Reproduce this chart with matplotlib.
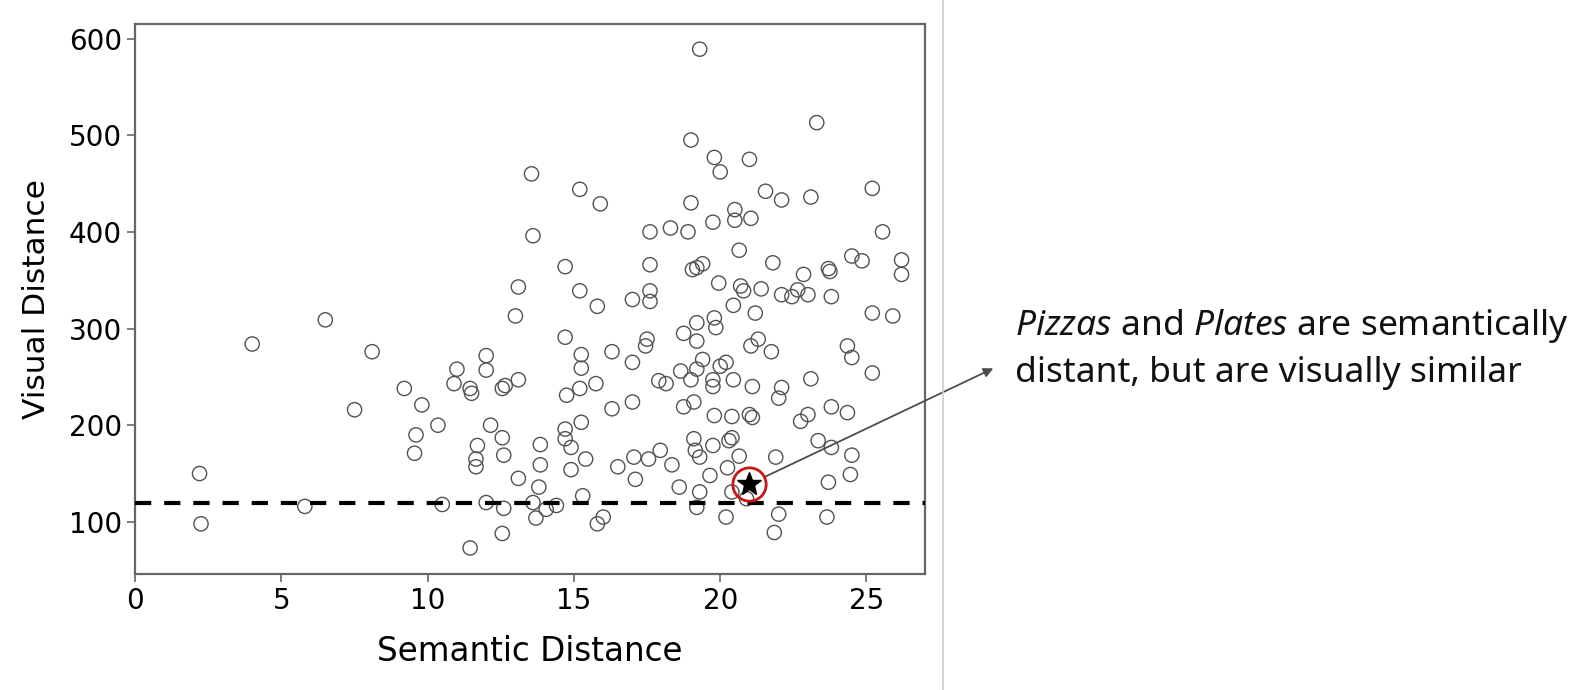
import numpy as np
import matplotlib.pyplot as plt
from matplotlib.lines import Line2D

# Semantic vs visual distance for each class pair
semantic_distance = [
    2.2, 2.25, 4.0, 6.5, 5.8, 8.1, 7.5, 9.2, 9.8, 9.6, 9.55, 10.35, 10.5, 11.0, 10.9,
    11.45, 11.5, 12.0, 12.0, 12.55, 12.65, 13.1, 13.0, 13.1, 12.15, 11.7, 11.65, 11.65,
    12.55, 12.6, 13.1, 12.0, 12.6, 12.55, 11.45,
    13.55, 15.2, 15.9, 19.3, 19.0, 19.0, 19.8, 20.0, 21.0, 23.3, 21.55, 22.1, 23.1, 25.2,
    13.6, 17.6, 18.3, 18.9, 14.7, 17.6, 19.05, 19.2, 19.4, 15.2, 15.8, 17.0, 17.6, 17.6,
    14.7, 15.25, 15.25, 16.3, 17.0, 17.5, 17.45, 18.75, 19.2, 19.2, 15.75, 15.2, 17.9,
    18.15, 18.65, 19.0, 19.2, 20.5, 20.5, 21.05, 19.75, 25.55, 20.65, 21.8, 24.5, 24.85,
    26.2, 26.2, 23.7, 23.75, 22.85, 19.95, 20.7, 20.8, 21.4, 22.1, 22.45, 22.65, 23.0,
    23.8, 20.45, 21.2, 25.2, 25.9, 19.8, 19.85, 21.05, 21.3, 21.75, 24.35, 24.5, 25.2,
    23.1, 19.4, 20.0, 20.2, 19.75, 20.45, 21.1, 22.1, 19.75,
    14.75, 16.3, 17.0, 18.75, 19.1, 13.85, 13.85, 13.8, 14.7, 14.7, 14.9, 15.25, 15.4,
    14.9, 15.3, 16.5, 17.05, 17.55, 17.95, 18.35, 17.1, 18.6, 19.1, 19.15, 19.3, 13.6,
    14.05, 13.7, 14.4, 15.8, 16.0, 19.2, 19.3,
    19.8, 20.4, 21.0, 21.1, 22.0, 22.75, 23.0, 23.8, 24.35, 19.75, 20.3, 20.4, 20.65,
    20.25, 19.65, 21.9, 23.35, 23.8, 24.5, 24.45, 23.7, 20.4, 20.9, 20.2, 22.0, 21.85,
    23.65,
]
visual_distance = [
    150, 98, 284, 309, 116, 276, 216, 238, 221, 190, 171, 200, 118, 258, 243,
    238, 233, 272, 257, 238, 241, 247, 313, 343, 200, 179, 165, 157,
    187, 169, 145, 120, 114, 88, 73,
    460, 444, 429, 589, 495, 430, 477, 462, 475, 513, 442, 433, 436, 445,
    396, 400, 404, 400, 364, 366, 361, 363, 367, 339, 323, 330, 339, 328,
    291, 273, 259, 276, 265, 289, 282, 295, 306, 287, 243, 238, 246,
    243, 256, 247, 258, 423, 412, 414, 410, 400, 381, 368, 375, 370,
    371, 356, 362, 359, 356, 347, 344, 339, 341, 335, 333, 340, 335,
    333, 324, 316, 316, 313, 311, 301, 282, 289, 276, 282, 270, 254,
    248, 268, 261, 265, 247, 247, 240, 239, 240,
    231, 217, 224, 219, 224, 180, 159, 136, 196, 186, 177, 203, 165,
    154, 127, 157, 167, 165, 174, 159, 144, 136, 186, 174, 167, 120,
    113, 104, 117, 98, 105, 115, 131,
    210, 209, 211, 208, 228, 204, 211, 219, 213, 179, 184, 187, 168,
    156, 148, 167, 184, 177, 169, 149, 141, 131, 124, 105, 108, 89,
    105,
]

# Highlighted pair (Pizzas / Plates) and the threshold line
highlight_semantic = 21.0
highlight_visual = 139
threshold = 120

plt.rcParams['mathtext.fontset'] = 'custom'
plt.rcParams['mathtext.rm'] = 'Noto Sans'
plt.rcParams['mathtext.it'] = 'Noto Sans:italic'

fig = plt.figure(figsize=(15.83, 6.9), dpi=100)
ax = fig.add_axes([0.0854, 0.168, 0.4989, 0.7972])

ax.scatter(semantic_distance, visual_distance, s=105, facecolors='none',
           edgecolors='0.32', linewidths=1.0, zorder=2)
ax.axhline(threshold, color='black', linewidth=3, dashes=(3.9, 3.1), zorder=3)

# Star for the highlighted pair with a red ring around it
ax.plot(highlight_semantic, highlight_visual, marker='o', markersize=24,
        markerfacecolor='none', markeredgecolor='#c81414', markeredgewidth=2.0, zorder=4)
ax.plot(highlight_semantic, highlight_visual, marker='*', markersize=18,
        color='black', zorder=5)

ax.set_xlim(0, 27)
ax.set_ylim(46, 615)
ax.set_xticks([0, 5, 10, 15, 20, 25])
ax.set_yticks([100, 200, 300, 400, 500, 600])
ax.tick_params(labelsize=20, length=6, width=1.2, color='0.4')
for spine in ax.spines.values():
    spine.set_color('0.4')
    spine.set_linewidth(1.6)
ax.set_xlabel('Semantic Distance', fontsize=23.5, labelpad=14)
ax.set_ylabel('Visual Distance', fontsize=22.5, labelpad=13)

# Arrow from the star out to the note
ax.annotate('', xy=(0.6275, 0.4662), xycoords='figure fraction',
            xytext=(highlight_semantic, highlight_visual), textcoords='data',
            arrowprops=dict(arrowstyle='-|>', color='0.3', lw=1.3,
                            mutation_scale=14, shrinkA=12, shrinkB=0))

fig.text(0.641, 0.5145, r'$\mathit{Pizzas}$ and $\mathit{Plates}$ are semantically',
         fontsize=25.5, family='Noto Sans', va='baseline', ha='left', color='#111111')
fig.text(0.641, 0.447, 'distant, but are visually similar',
         fontsize=25.5, family='Noto Sans', va='baseline', ha='left', color='#111111')

# Light separator between the chart and the note
fig.add_artist(Line2D([0.5955, 0.5955], [0, 1], color='0.8', linewidth=1.2))

fig.savefig('out.png', dpi=100)
